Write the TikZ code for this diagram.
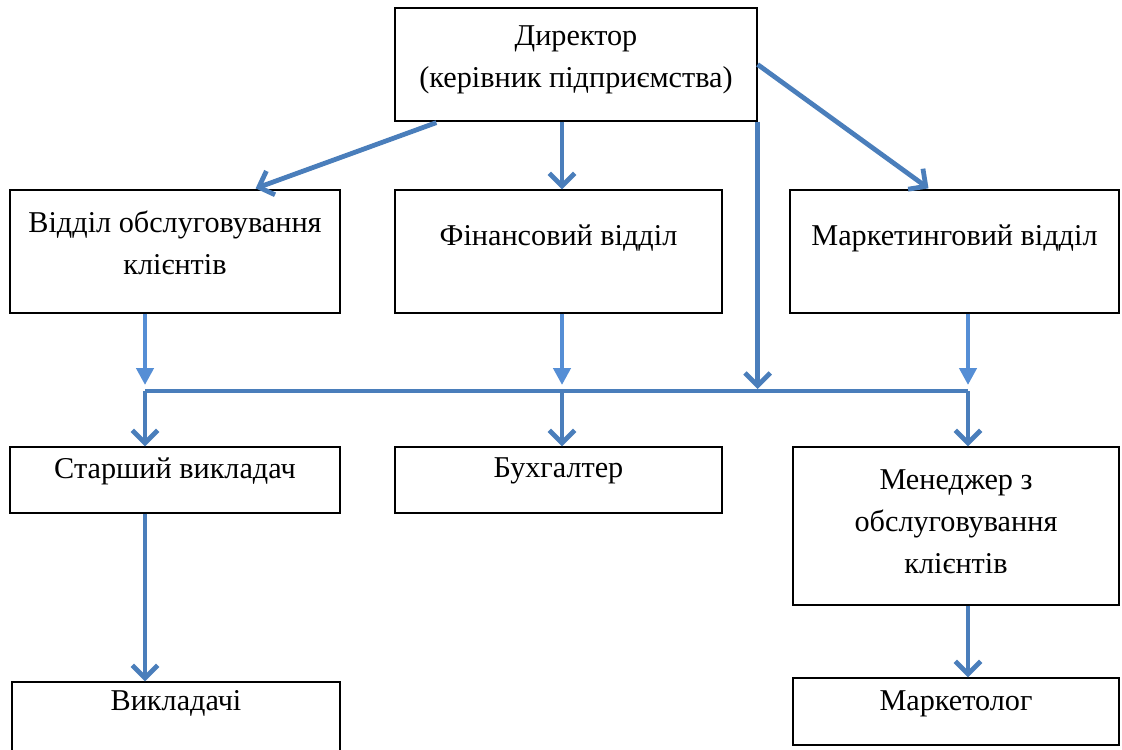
\documentclass[tikz,border=0pt]{standalone}
\usepackage{fontspec}
\setmainfont{Liberation Serif}
\usetikzlibrary{arrows.meta,calc}
\definecolor{linkblue}{RGB}{74,126,187}
\definecolor{lightblue}{RGB}{85,142,213}

\begin{document}
\begin{tikzpicture}[x=0.025cm, y=-0.025cm,
    box/.style={draw, line width=0.9pt, inner sep=0pt},
    sz/.style 2 args={minimum width=#1*0.025cm, minimum height=#2*0.025cm},
    txt/.style={align=center, font=\fontsize{21.5}{30}\selectfont},
    barb/.style={draw=linkblue, line width=3.4pt, -{Straight Barb[length=9pt, width=18pt]}},
    tri/.style={draw=lightblue, line width=3.4pt, -{Triangle[length=12pt, width=12pt]}}]
    \useasboundingbox (0,0) rectangle (1122,749);

    % boxes
    \node[box, sz={362}{113}] (dir) at (576,64.5) {};
    \node[box, sz={330}{123}] (vok) at (175,251.5) {};
    \node[box, sz={327}{123}] (fin) at (558.5,251.5) {};
    \node[box, sz={329}{123}] (mark) at (954.5,251.5) {};
    \node[box, sz={330}{66}] (stv) at (175,480) {};
    \node[box, sz={327}{66}] (buh) at (558.5,480) {};
    \node[box, sz={326}{158}] (men) at (956,526) {};
    \node[box, sz={328}{72}] (vykl) at (176,718) {};
    \node[box, sz={326}{67}] (mrk) at (956,711.5) {};

    % texts
    \node[txt] (dirt) at (576,60) {Директор\\(керівник підприємства)};
    \node[txt] (vokt) at (175,243) {Відділ обслуговування\\клієнтів};
    \node[txt] (fint) at (558.5,238) {Фінансовий відділ};
    \node[txt] (markt) at (954.5,238) {Маркетинговий відділ};
    \node[txt] (stvt) at (175,471) {Старший викладач};
    \node[txt] (buht) at (558.5,471) {Бухгалтер};
    \node[txt] (ment) at (956,522) {Менеджер з\\обслуговування\\клієнтів};
    \node[txt] (vyklt) at (176,703) {Викладачі};
    \node[txt] (mrkt) at (956,704) {Маркетолог};

    % bus
    \coordinate (b1) at (145,391);
    \coordinate (b2) at (562,391);
    \coordinate (b3) at (968,391);
    \draw[linkblue, line width=3.4pt] (b1) -- (b3);

    % from the director
    \draw[barb] ($(dir.south west)+(42,1)$) -- ($(vok.north east)+(-85,-1)$);
    \draw[barb] (dir.south -| b2) -- (fin.north -| b2);
    \draw[barb] (dir.east) -- ($(mark.north)+(-26,-1)$);
    \draw[barb] (dir.south east) -- ($(b1-|dir.south east)+(0,-2)$);

    % down to the bus
    \draw[tri] (vok.south -| b1) -- ($(b1)+(0,-6)$);
    \draw[tri] (fin.south -| b2) -- ($(b2)+(0,-6)$);
    \draw[tri] (mark.south -| b3) -- ($(b3)+(0,-6)$);

    % from the bus
    \draw[barb] (b1) -- (stv.north -| b1);
    \draw[barb] (b2) -- (buh.north -| b2);
    \draw[barb] (b3) -- (men.north -| b3);

    % lower level
    \draw[barb] (stv.south -| b1) -- (vykl.north -| b1);
    \draw[barb] (men.south -| b3) -- (mrk.north -| b3);
\end{tikzpicture}
\end{document}
